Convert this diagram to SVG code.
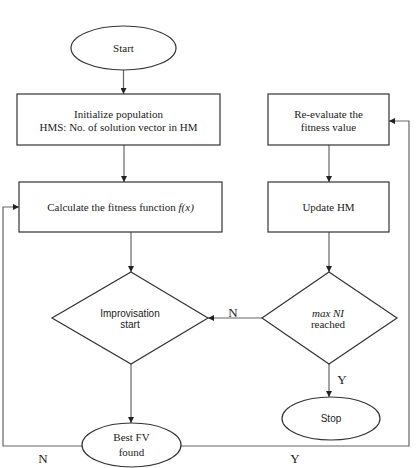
<svg xmlns="http://www.w3.org/2000/svg" width="416" height="468" viewBox="0 0 416 468">
<defs>
<marker id="ah" viewBox="0 0 10 10" refX="10" refY="5" markerWidth="6" markerHeight="6" orient="auto" markerUnits="userSpaceOnUse">
<path d="M0,0 L10,5 L0,10 z" fill="#222"/>
</marker>
<style>
.shape{fill:#fff;stroke:#333;stroke-width:1.2}
.conn{fill:none;stroke:#666;stroke-width:1.2}
.t{font-family:"Liberation Serif","Times New Roman",serif;font-size:11px;fill:#222;text-anchor:middle}
.s{font-family:"Liberation Sans",Arial,sans-serif;font-size:10px;fill:#222;text-anchor:middle}
.lbl{font-family:"Liberation Serif","Times New Roman",serif;font-size:13px;fill:#222;text-anchor:middle}
</style>
</defs>
<rect width="416" height="468" fill="#fff"/>
<g id="connectors">
<line class="conn" x1="123.5" y1="70" x2="123.5" y2="94" marker-end="url(#ah)"/>
<line class="conn" x1="124" y1="145" x2="124" y2="182" marker-end="url(#ah)"/>
<line class="conn" x1="131" y1="232" x2="131" y2="272" marker-end="url(#ah)"/>
<line class="conn" x1="329" y1="145" x2="329" y2="182" marker-end="url(#ah)"/>
<line class="conn" x1="329" y1="232" x2="329" y2="272" marker-end="url(#ah)"/>
<line class="conn" x1="262" y1="318" x2="208" y2="318" marker-end="url(#ah)"/>
<line class="conn" x1="329" y1="364" x2="329" y2="397" marker-end="url(#ah)"/>
<line class="conn" x1="131" y1="364" x2="131" y2="423" marker-end="url(#ah)"/>
<polyline class="conn" points="82,446 3,446 3,207 19,207" marker-end="url(#ah)"/>
<polyline class="conn" points="181,446 409,446 409,121 389,121" marker-end="url(#ah)"/>
<text class="lbl" x="233" y="317">N</text>
<text class="lbl" x="342" y="384">Y</text>
<text class="lbl" x="43" y="463">N</text>
<text class="lbl" x="295" y="463">Y</text>
</g>
<g id="start">
<ellipse class="shape" cx="123.5" cy="48" rx="52.5" ry="22"/>
<text class="t" x="123.5" y="52">Start</text>
</g>
<g id="init">
<rect class="shape" x="17" y="94" width="203" height="51"/>
<text class="t" x="118.5" y="118">Initialize population</text>
<text class="t" x="118.5" y="131">HMS: No. of solution vector in HM</text>
</g>
<g id="calc">
<rect class="shape" x="19" y="182" width="203" height="50"/>
<text class="t" x="120.5" y="211">Calculate the fitness function <tspan font-style="italic">f(x)</tspan></text>
</g>
<g id="reeval">
<rect class="shape" x="268" y="94" width="121" height="51"/>
<text class="t" x="328.5" y="118">Re-evaluate the</text>
<text class="t" x="328.5" y="131">fitness value</text>
</g>
<g id="update">
<rect class="shape" x="268" y="182" width="121" height="50"/>
<text class="t" x="328.5" y="211">Update HM</text>
</g>
<g id="improvisation">
<polygon class="shape" points="131,272 208,318 131,364 52,318"/>
<text class="s" x="130" y="317">Improvisation</text>
<text class="s" x="130" y="328">start</text>
</g>
<g id="maxni">
<polygon class="shape" points="329,272 397,318 329,364 262,318"/>
<text class="t" x="328" y="317" font-style="italic">max NI</text>
<text class="t" x="328" y="328">reached</text>
</g>
<g id="stop">
<ellipse class="shape" cx="331" cy="418.5" rx="49" ry="21.5"/>
<text class="s" x="331" y="422">Stop</text>
</g>
<g id="bestfv">
<ellipse class="shape" cx="131.5" cy="445" rx="49.5" ry="22"/>
<text class="t" x="131.5" y="441">Best FV</text>
<text class="t" x="131.5" y="456">found</text>
</g>
</svg>
